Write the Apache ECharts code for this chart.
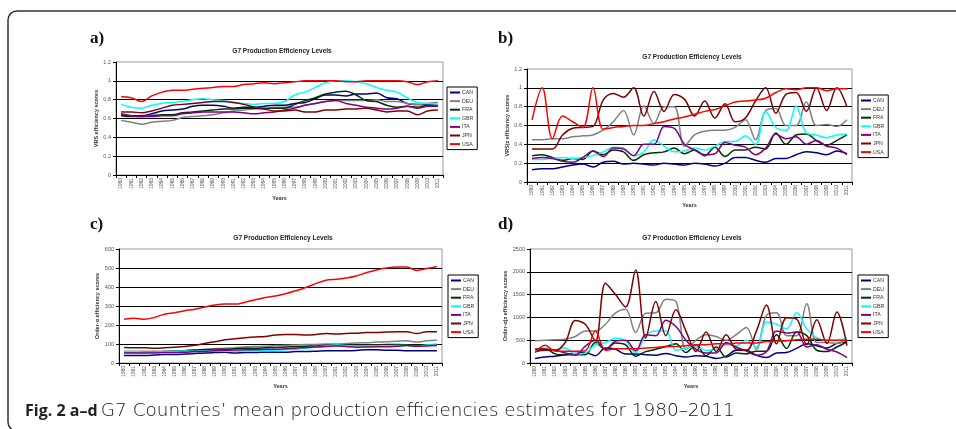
<!DOCTYPE html>
<html><head><meta charset="utf-8">
<script src="https://cdn.jsdelivr.net/npm/echarts@6/dist/echarts.min.js"></script>
<style>html,body{margin:0;padding:0;background:#fff}#c{width:956px;height:429px}</style>
</head><body><div id="c"></div>
<script>
const years = ['1980','1981','1982','1983','1984','1985','1986','1987','1988','1989','1990','1991','1992','1993','1994','1995','1996','1997','1998','1999','2000','2001','2002','2003','2004','2005','2006','2007','2008','2009','2010','2011'];
const countries = ['CAN','DEU','FRA','GBR','ITA','JPN','USA'];
const colors = ['#000080','#808080','#003300','#00FFFF','#800080','#800000','#FF0000'];

// Panel a: VRS efficiency scores
const aCAN = [0.64,0.63,0.63,0.65,0.68,0.69,0.70,0.73,0.74,0.74,0.73,0.71,0.72,0.72,0.73,0.74,0.74,0.76,0.77,0.81,0.85,0.85,0.84,0.86,0.86,0.87,0.82,0.81,0.76,0.75,0.75,0.74];
const aDEU = [0.58,0.56,0.54,0.56,0.57,0.58,0.61,0.62,0.63,0.64,0.66,0.68,0.69,0.70,0.70,0.72,0.72,0.72,0.74,0.76,0.78,0.79,0.79,0.79,0.79,0.80,0.78,0.78,0.76,0.75,0.76,0.77];
const aFRA = [0.63,0.62,0.62,0.63,0.64,0.64,0.66,0.67,0.68,0.69,0.70,0.70,0.71,0.71,0.71,0.71,0.71,0.75,0.79,0.82,0.86,0.88,0.89,0.85,0.79,0.78,0.74,0.72,0.73,0.72,0.74,0.74];
const aGBR = [0.75,0.72,0.71,0.74,0.76,0.77,0.78,0.80,0.81,0.80,0.79,0.77,0.76,0.75,0.76,0.76,0.78,0.85,0.88,0.93,0.98,1.00,1.00,0.99,0.97,0.93,0.90,0.88,0.82,0.77,0.76,0.75];
const aITA = [0.65,0.63,0.62,0.62,0.63,0.63,0.65,0.66,0.67,0.67,0.67,0.67,0.66,0.65,0.66,0.67,0.69,0.71,0.74,0.76,0.78,0.79,0.76,0.74,0.72,0.71,0.70,0.71,0.73,0.71,0.73,0.73];
const aJPN = [0.67,0.67,0.66,0.68,0.71,0.74,0.75,0.76,0.77,0.78,0.78,0.77,0.75,0.72,0.70,0.68,0.68,0.69,0.67,0.67,0.69,0.69,0.70,0.70,0.71,0.69,0.67,0.68,0.68,0.64,0.68,0.69];
const aUSA = [0.83,0.82,0.78,0.84,0.88,0.90,0.90,0.91,0.92,0.93,0.94,0.94,0.96,0.97,0.98,0.97,0.98,0.99,1.00,1.00,1.00,1.00,0.99,0.99,1.00,1.00,1.00,1.00,0.99,0.96,0.99,1.00];

// Panel b: VRS|z efficiency scores
const bCAN = [0.13,0.14,0.14,0.16,0.18,0.19,0.16,0.21,0.22,0.19,0.20,0.19,0.18,0.20,0.19,0.18,0.20,0.19,0.17,0.20,0.26,0.26,0.23,0.21,0.25,0.25,0.29,0.32,0.31,0.29,0.33,0.30];
const bDEU = [0.45,0.45,0.46,0.46,0.48,0.49,0.50,0.55,0.64,0.76,0.50,0.81,0.62,0.80,0.80,0.38,0.50,0.54,0.55,0.55,0.58,0.66,0.45,0.76,0.78,0.60,0.60,0.85,0.60,0.61,0.59,0.66];
const bFRA = [0.28,0.29,0.26,0.23,0.25,0.24,0.33,0.29,0.34,0.32,0.23,0.29,0.31,0.32,0.36,0.30,0.34,0.28,0.37,0.27,0.34,0.34,0.37,0.35,0.52,0.40,0.50,0.51,0.44,0.39,0.44,0.50];
const bGBR = [0.24,0.24,0.25,0.26,0.25,0.26,0.28,0.32,0.37,0.36,0.28,0.32,0.45,0.38,0.32,0.33,0.36,0.34,0.38,0.43,0.43,0.49,0.40,0.75,0.58,0.55,0.81,0.52,0.50,0.47,0.50,0.51];
const bITA = [0.25,0.26,0.25,0.22,0.21,0.26,0.33,0.27,0.36,0.35,0.28,0.40,0.40,0.59,0.57,0.40,0.34,0.29,0.30,0.42,0.39,0.37,0.29,0.36,0.51,0.46,0.48,0.40,0.44,0.38,0.36,0.29];
const bJPN = [0.35,0.35,0.35,0.50,0.57,0.58,0.59,0.87,0.94,0.90,1.00,0.70,0.96,0.75,0.93,0.88,0.70,0.86,0.68,0.83,0.64,0.68,0.86,1.00,0.73,0.93,0.95,0.75,1.00,0.76,1.00,0.80];
const bUSA = [0.66,1.00,0.46,0.70,0.64,0.58,1.00,0.56,0.58,0.59,0.60,0.60,0.62,0.64,0.67,0.69,0.72,0.75,0.77,0.81,0.85,0.86,0.87,0.89,0.95,0.99,0.98,1.00,1.00,0.97,0.99,0.99];

// Panel c: Order-α efficiency scores
const cCAN = [40,40,40,42,45,45,47,50,53,55,57,52,55,55,57,57,57,60,60,62,65,65,65,66,70,70,67,67,65,65,65,65];
const cDEU = [55,56,55,57,58,62,65,68,72,75,78,80,85,87,88,92,93,95,97,98,100,100,102,105,107,110,112,115,117,110,117,120];
const cFRA = [60,60,60,60,62,63,65,68,70,72,73,75,77,78,80,82,84,86,88,90,92,95,96,95,95,96,97,97,96,94,96,97];
const cGBR = [60,60,58,58,60,62,63,62,64,66,65,62,63,65,66,68,70,73,78,84,90,95,92,90,90,88,90,92,92,88,95,95];
const cITA = [52,52,52,53,55,55,57,60,62,65,67,68,70,70,72,72,75,78,82,84,87,90,87,83,84,85,85,88,92,88,90,92];
const cJPN = [82,80,80,78,80,83,87,93,103,112,122,128,133,137,140,148,150,150,147,150,155,152,155,157,160,160,163,165,165,155,165,165];
const cUSA = [230,236,230,240,257,265,275,283,295,305,310,310,320,333,345,353,365,380,397,418,436,441,447,458,475,490,500,505,505,487,497,508];

// Panel d: Order-α|z efficiency scores
const dCAN = [100,130,150,180,210,230,160,330,300,200,200,180,170,210,160,130,160,150,100,150,280,280,170,120,220,230,320,420,380,330,430,460];
const dDEU = [490,500,510,520,580,700,700,850,1100,1180,670,1090,1100,1400,1350,300,500,620,580,500,620,780,300,1050,1100,600,600,1300,450,450,430,500];
const dFRA = [300,320,200,180,180,180,450,300,440,400,150,250,300,360,420,230,400,160,350,130,220,200,260,260,620,320,680,600,280,250,350,460];
const dGBR = [230,300,280,330,200,220,400,450,550,480,230,600,700,700,280,330,350,280,300,400,380,500,350,900,850,750,1100,750,550,500,500,550];
const dITA = [300,300,280,220,170,370,500,300,480,500,270,620,600,940,800,500,300,220,220,450,350,260,170,250,700,660,680,350,400,300,240,120];
const dJPN = [250,280,280,450,930,850,480,1750,1500,1230,2040,550,1350,600,1170,700,250,680,250,620,300,280,700,1270,420,990,960,400,950,430,1120,380];
const dUSA = [230,390,260,260,260,270,700,280,310,310,310,330,340,360,360,380,400,400,420,420,440,440,440,470,480,490,510,520,520,500,500,500];

const panels = [
  {data:[aCAN,aDEU,aFRA,aGBR,aITA,aJPN,aUSA], max:1.2, interval:0.2, yname:'VRS efficiency scores'},
  {data:[bCAN,bDEU,bFRA,bGBR,bITA,bJPN,bUSA], max:1.2, interval:0.2, yname:'VRS|z efficiency scores'},
  {data:[cCAN,cDEU,cFRA,cGBR,cITA,cJPN,cUSA], max:600, interval:100, yname:'Order-\u03b1 efficiency scores'},
  {data:[dCAN,dDEU,dFRA,dGBR,dITA,dJPN,dUSA], max:2500, interval:500, yname:'Order-\u03b1|z efficiency scores'}
];

// layout (pixels)
const grids = [
  {left:116, top:62, width:327, height:113},
  {left:527, top:69, width:325, height:113},
  {left:119, top:249, width:323, height:114},
  {left:530, top:249, width:322, height:114}
];
const legendPos = [{left:447, top:87},{left:858, top:95},{left:448, top:275},{left:858, top:275}];
const titlePos = [[282,51],[692,57],[283,238],[692,238]];
const letterPos = [[90,39,'a)'],[498,39,'b)'],[90,225,'c)'],[498,225,'d)']];
const yNameGap = [15,17,18,20];

const F = 'Liberation Sans, Arial, sans-serif';
const option = {
  animation:false,
  backgroundColor:'#fff',
  grid: grids.map(g => Object.assign({show:true, borderColor:'#999', borderWidth:1, backgroundColor:'transparent'}, g)),
  xAxis: panels.map((p,i) => ({
    type:'category', gridIndex:i, data:years, boundaryGap:true,
    name:'Years', nameLocation:'middle', nameGap:20,
    nameTextStyle:{fontSize:5.5, fontWeight:'bold', color:'#333', fontFamily:F},
    axisLine:{lineStyle:{color:'#000', width:1}},
    axisTick:{show:true, interval:0, length:3, lineStyle:{color:'#000'}},
    axisLabel:{interval:0, rotate:90, fontSize:4.8, color:'#555', margin:3, fontFamily:F},
    splitLine:{show:false}
  })),
  yAxis: panels.map((p,i) => ({
    type:'value', gridIndex:i, min:0, max:p.max, interval:p.interval,
    name:p.yname, nameLocation:'middle', nameGap:yNameGap[i], nameRotate:90,
    nameTextStyle:{fontSize:5.5, fontWeight:'bold', color:'#333', fontFamily:F},
    axisLine:{show:true, lineStyle:{color:'#000', width:1}},
    axisTick:{show:true, length:3, lineStyle:{color:'#000'}},
    axisLabel:{fontSize:5.5, color:'#555', margin:5, fontFamily:F, formatter: v => String(+v.toFixed(2))},
    splitLine:{show:true, showMaxLine:false, lineStyle:{color:'#000', width:1}}
  })),
  legend: legendPos.map(lp => ({
    left:lp.left, top:lp.top, orient:'vertical', data:countries,
    icon:'rect', itemWidth:10, itemHeight:2, itemGap:3.6,
    padding:[3,4,3,3], borderColor:'#000', borderWidth:1,
    textStyle:{fontSize:5.2, color:'#333', fontFamily:F, padding:[0,0,0,-3]},
    selectedMode:false
  })),
  series: [],
  graphic: []
};
panels.forEach((p,i) => {
  p.data.forEach((arr,k) => {
    option.series.push({
      type:'line', name:countries[k], xAxisIndex:i, yAxisIndex:i, data:arr,
      smooth:0.35, showSymbol:false, symbol:'none',
      lineStyle:{color:colors[k], width:1.5}, itemStyle:{color:colors[k]},
      z: 2
    });
  });
});
option.graphic.push({type:'rect', shape:{x:8, y:11, width:1000, height:420, r:9}, style:{fill:'none', stroke:'#333', lineWidth:1.5}, silent:true});
titlePos.forEach(tp => option.graphic.push({type:'text', x:tp[0], y:tp[1], style:{text:'G7 Production Efficiency Levels', font:'bold 6.5px '+F, fill:'#222', align:'center', verticalAlign:'middle'}}));
letterPos.forEach(lp => option.graphic.push({type:'text', x:lp[0], y:lp[1], style:{text:lp[2], font:'bold 17px "Liberation Serif", "Times New Roman", serif', fill:'#111', align:'left', verticalAlign:'middle'}}));
option.graphic.push({type:'text', x:25, y:411, style:{
  text:'{b|Fig. 2 a\u2013d} {n|G7 Countries\u2019 mean production efficiencies estimates for 1980\u20132011}',
  rich:{b:{fontWeight:'bold', fontSize:16, fontFamily:'Open Sans', fill:'#231f20'}, n:{fontSize:18.4, fontWeight:300, fontFamily:'DejaVu Sans', fill:'#111111'}},
  verticalAlign:'middle', align:'left'
}});
const chart = echarts.init(document.getElementById('c'));
chart.setOption(option);
</script></body></html>
